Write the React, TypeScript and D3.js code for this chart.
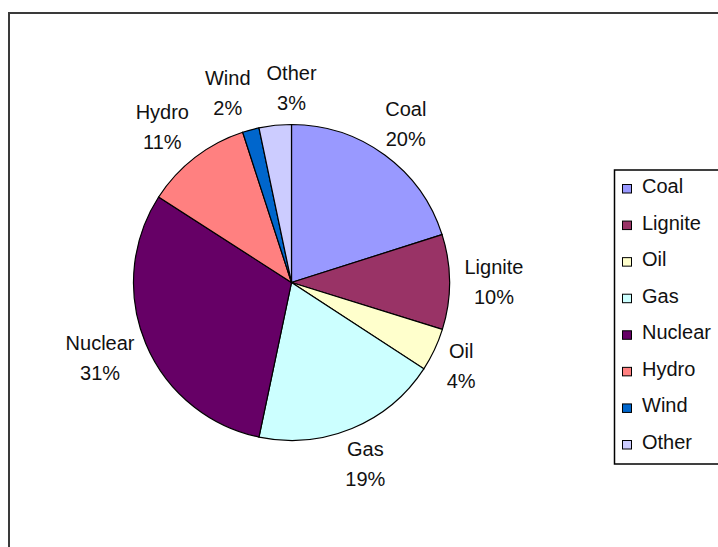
import React from "react";
import * as d3 from "d3";

const categories = ["Coal", "Lignite", "Oil", "Gas", "Nuclear", "Hydro", "Wind", "Other"];
const shares = [20.1, 9.7, 4.4, 19.1, 30.8, 10.9, 1.7, 3.3];
const sliceColors = ["#9999FF", "#993366", "#FFFFCC", "#CCFFFF", "#660066", "#FF8080", "#0066CC", "#CCCCFF"];

const W = 718;
const H = 547;
const FONT = "'Liberation Sans', Arial, sans-serif";
const FS = 20;

function textWidth(s: string): number {
  const c = document.createElement("canvas").getContext("2d");
  if (!c) return s.length * FS * 0.55;
  c.font = `${FS}px 'Liberation Sans'`;
  return c.measureText(s).width;
}

export default function App() {
  const cx = 291.5;
  const cy = 282.5;
  const r = 158;
  const total = d3.sum(shares);
  const pie = d3.pie<number>().sort(null).value((d) => d);
  const arcs = pie(shares);
  const arc = d3.arc<d3.PieArcDatum<number>>().innerRadius(0).outerRadius(r);
  const pct = (v: number) => `${Math.round((v / total) * 100)}%`;

  const lineGap = 30;
  const gapX = 15;
  const gapY = 16;
  const hh = 22;
  const pad = 16;

  const labels = arcs.map((a, i) => {
    const mid = (a.startAngle + a.endAngle) / 2;
    const s = Math.sin(mid);
    const c = Math.cos(mid);
    const hw = Math.max(textWidth(categories[i]), textWidth(pct(shares[i]))) / 2;
    return { x: cx + s * (r + gapX + hw), y: cy - c * (r + gapY + hh), hw };
  });
  // resolve overlaps between neighbouring labels by pushing them apart horizontally
  for (let iter = 0; iter < 10; iter++) {
    for (let i = 0; i < labels.length; i++) {
      const A = labels[i];
      const B = labels[(i + 1) % labels.length];
      if (Math.abs(A.y - B.y) < 2 * hh) {
        const need = A.hw + B.hw + pad;
        const dx = B.x - A.x;
        if (Math.abs(dx) < need) {
          const dir = dx >= 0 ? 1 : -1;
          const push = (need - Math.abs(dx)) / 2;
          A.x -= dir * push;
          B.x += dir * push;
        }
      }
    }
  }

  const legendY = d3.scalePoint<string>().domain(categories).range([193, 449]);

  return (
    <svg width={W} height={H} style={{ position: "absolute", left: 0, top: 0, background: "#fff" }}>
      <rect x={0} y={0} width={W} height={H} fill="#fff" />
      <rect x={9} y={13} width={800} height={700} fill="none" stroke="#3a3a3a" strokeWidth={2} />
      <g transform={`translate(${cx},${cy})`}>
        {arcs.map((a, i) => (
          <path key={i} d={arc(a) || ""} fill={sliceColors[i]} stroke="#000" strokeWidth={1.2} />
        ))}
      </g>
      {labels.map((L, i) => {
        const b1 = L.y - 7.85;
        return (
          <text key={i} fontFamily={FONT} fontSize={FS} fill="#111" textAnchor="middle">
            <tspan x={L.x} y={b1}>{categories[i]}</tspan>
            <tspan x={L.x} y={b1 + lineGap}>{pct(shares[i])}</tspan>
          </text>
        );
      })}
      <rect x={614.5} y={170} width={200} height={294} fill="#fff" stroke="#000" strokeWidth={1.5} />
      {categories.map((k, i) => {
        const y = legendY(k) as number;
        return (
          <g key={k}>
            <rect x={622.5} y={y - 8.5} width={9} height={8.5} fill={sliceColors[i]} stroke="#000" strokeWidth={1} />
            <text x={642} y={y} fontFamily={FONT} fontSize={FS} fill="#111">{k}</text>
          </g>
        );
      })}
    </svg>
  );
}
